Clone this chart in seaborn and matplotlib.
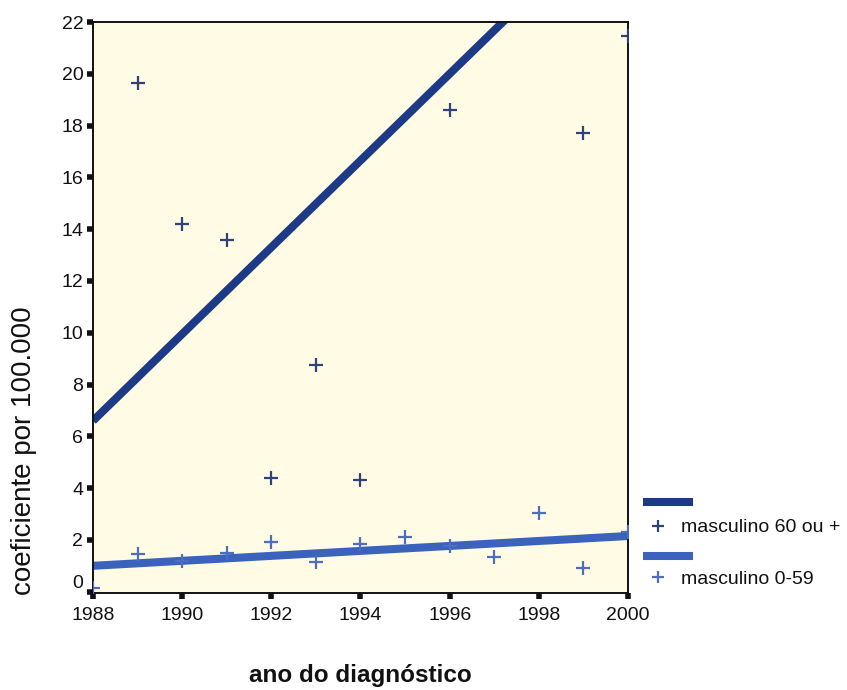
import matplotlib
matplotlib.use("Agg")
import matplotlib.pyplot as plt
from matplotlib.lines import Line2D
import seaborn as sns
import pandas as pd

# Incidence coefficients (per 100,000) by year of diagnosis
years_60 = [1989, 1990, 1991, 1992, 1993, 1994, 1996, 1999, 2000]
coef_60 = [19.65, 14.2, 13.6, 4.4, 8.75, 4.3, 18.6, 17.7, 21.45]

years_0_59 = [1988, 1989, 1990, 1991, 1992, 1993, 1994, 1995, 1996, 1997, 1998, 1999, 2000]
coef_0_59 = [0.15, 1.45, 1.2, 1.5, 1.9, 1.15, 1.85, 2.1, 1.75, 1.35, 3.05, 0.9, 2.3]

# Fitted trend lines (endpoints over the study period)
fit_years = [1988, 2000]
fit_60 = [6.6, 26.7]
fit_0_59 = [1.0, 2.15]

label_60 = "masculino 60 ou +"
label_0_59 = "masculino 0-59"

x_ticks = [1988, 1990, 1992, 1994, 1996, 1998, 2000]
y_ticks = [0, 2, 4, 6, 8, 10, 12, 14, 16, 18, 20, 22]

dark_blue = "#1d3a86"
light_blue = "#3b63be"
dark_pt = "#2e4378"
light_pt = "#4c6dc0"

sns.set_theme(style="white")
plt.rcParams["font.family"] = ["Liberation Sans", "DejaVu Sans"]

fig = plt.figure(figsize=(8.47, 6.90), dpi=100)
ax = fig.add_axes([0.1098, 0.1406, 0.6316, 0.8275])
ax.set_facecolor("#fffbe4")

df_fit = pd.DataFrame({"ano": fit_years * 2,
                       "coef": fit_60 + fit_0_59,
                       "grupo": [label_60] * 2 + [label_0_59] * 2})
sns.lineplot(data=df_fit[df_fit.grupo == label_60], x="ano", y="coef",
             color=dark_blue, linewidth=5.8, ax=ax, legend=False,
             solid_capstyle="butt")
sns.lineplot(data=df_fit[df_fit.grupo == label_0_59], x="ano", y="coef",
             color=light_blue, linewidth=5.8, ax=ax, legend=False,
             solid_capstyle="butt")

df_60 = pd.DataFrame({"ano": years_60, "coef": coef_60})
df_0_59 = pd.DataFrame({"ano": years_0_59, "coef": coef_0_59})
sns.scatterplot(data=df_60, x="ano", y="coef", marker="+", s=90,
                color=dark_pt, linewidth=1.6, ax=ax, legend=False, zorder=4)
sns.scatterplot(data=df_0_59, x="ano", y="coef", marker="+", s=90,
                color=light_pt, linewidth=1.6, ax=ax, legend=False, zorder=4)

ax.set_xlim(1988, 2000)
ax.set_ylim(-0.05, 22)
ax.set_xticks(x_ticks)
ax.set_yticks(y_ticks)
ax.set_xticklabels([str(v) for v in x_ticks])
ax.set_yticklabels([str(v) for v in y_ticks])
ax.get_yticklabels()[0].set_va("bottom")

for side in ["left", "right", "top", "bottom"]:
    ax.spines[side].set_visible(True)
    ax.spines[side].set_color("#111111")
    ax.spines[side].set_linewidth(1.4)

ax.tick_params(axis="both", which="major", direction="out", length=4,
               width=4, color="#111111", labelsize=14, pad=3,
               labelcolor="#111111", bottom=True, left=True,
               top=False, right=False)
ax.tick_params(axis="x", pad=6)

ax.set_xlabel("")
ax.set_ylabel("")
fig.text(0.028, 0.347, "coeficiente por 100.000", rotation=90,
         ha="center", va="center", fontsize=20, color="#111111")
fig.text(0.426, 0.021, "ano do diagnóstico", ha="center", va="center",
         fontsize=17.5, fontweight="bold", color="#111111")

# Legend: trend-line swatch above each marker entry
W, H = 847, 690
def fx(px):
    return px / W
def fy(py):
    return 1 - py / H

entries = [(dark_blue, dark_pt, label_60, 502, 526),
           (light_blue, light_pt, label_0_59, 556, 577)]
for lc, pc, lab, ly, my in entries:
    fig.add_artist(Line2D([fx(643), fx(693)], [fy(ly), fy(ly)],
                          color=lc, linewidth=5.8, solid_capstyle="butt",
                          transform=fig.transFigure))
    fig.add_artist(Line2D([fx(658)], [fy(my)], marker="+", markersize=9,
                          markeredgewidth=1.6, color=pc, linestyle="none",
                          transform=fig.transFigure))
    fig.text(fx(681), fy(my + 2), lab, ha="left", va="center",
             fontsize=14, color="#111111")

fig.savefig("out.png", dpi=100)
